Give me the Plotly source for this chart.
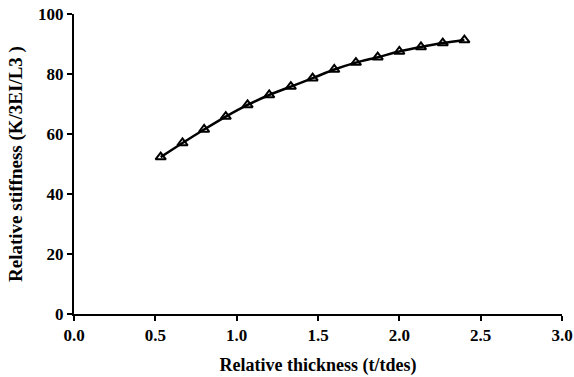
import plotly.graph_objects as go

thickness = [0.533, 0.667, 0.8, 0.933, 1.067, 1.2, 1.333, 1.467, 1.6, 1.733, 1.867, 2.0, 2.133, 2.267, 2.4]
stiffness = [52.3, 57.0, 61.5, 65.8, 69.7, 73.0, 75.8, 78.6, 81.5, 83.8, 85.6, 87.5, 89.0, 90.3, 91.3]

x_ticks = [0.0, 0.5, 1.0, 1.5, 2.0, 2.5, 3.0]
x_tick_labels = ["0.0", "0.5", "1.0", "1.5", "2.0", "2.5", "3.0"]
y_ticks = [0, 20, 40, 60, 80, 100]

def bold(size):
    return dict(family="Liberation Serif", size=size, color="black", weight="bold")

fig = go.Figure()
fig.add_trace(go.Scatter(
    x=thickness, y=stiffness, mode="lines+markers",
    line=dict(color="black", width=2.5, shape="spline"),
    marker=dict(symbol="triangle-up-open", size=9, color="black", line=dict(width=2)),
    showlegend=False,
))

fig.update_layout(
    width=574, height=377,
    margin=dict(l=74, r=12, t=14, b=63),
    plot_bgcolor="white", paper_bgcolor="white",
    font=bold(17),
    xaxis=dict(
        range=[0, 3], tickvals=x_ticks, ticktext=x_tick_labels, automargin=False,
        showgrid=False, zeroline=False, showline=True, linecolor="black", linewidth=2,
        ticks="outside", ticklen=5, tickwidth=2, tickcolor="black",
        tickfont=bold(17),
        title=dict(text="Relative thickness (t/tdes)", standoff=14, font=bold(18)),
    ),
    yaxis=dict(
        range=[0, 100], tickvals=y_ticks, automargin=False,
        showgrid=False, zeroline=False, showline=True, linecolor="black", linewidth=2,
        ticks="outside", ticklen=5, tickwidth=2, tickcolor="black",
        tickfont=bold(17),
        title=dict(text="Relative stiffness (K/3EI/L3 )", standoff=10, font=bold(19)),
    ),
)

fig.write_html("out.html", config={"displayModeBar": False},
               post_script="document.body.style.margin='0';")
